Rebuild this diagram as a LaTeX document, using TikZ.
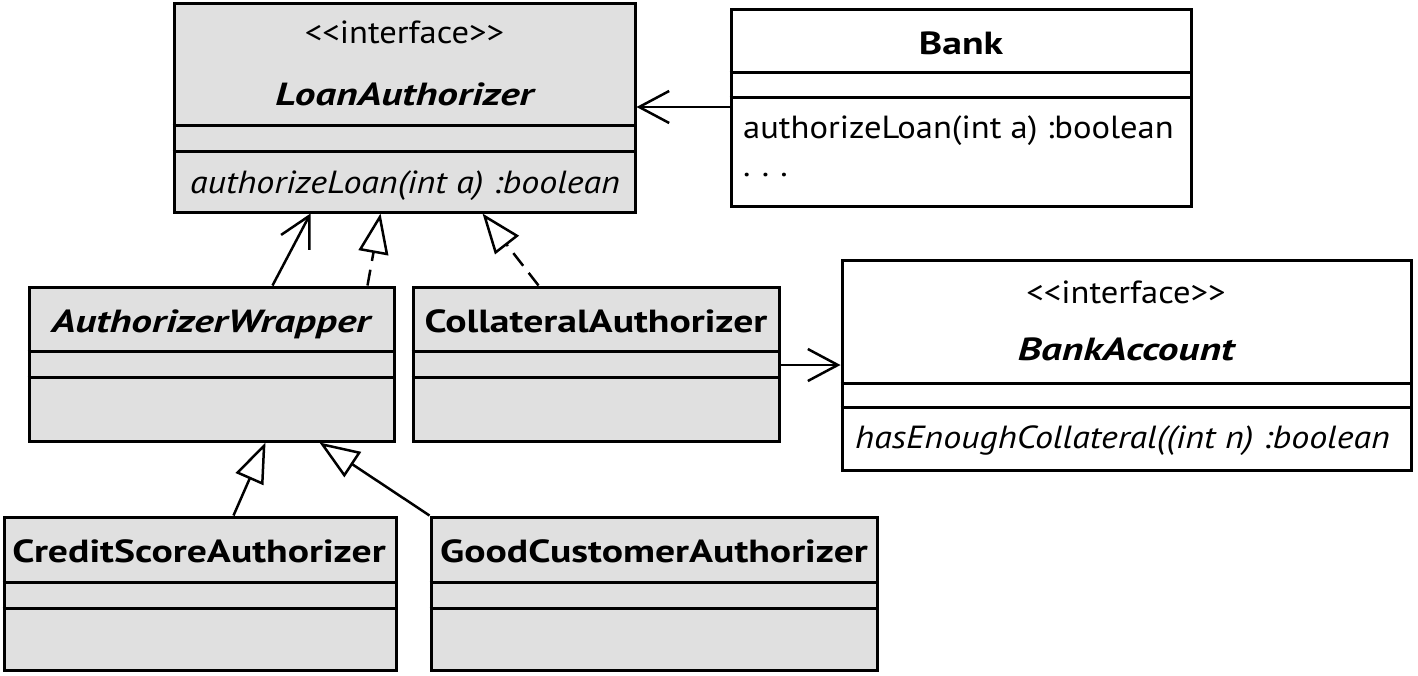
\documentclass[tikz,border=0pt]{standalone}
\usepackage{fontspec}
\setmainfont{PT Sans}
\newfontfamily\fReg{PT Sans}[FakeStretch=1.08]
\newfontfamily\fIt{PT Sans}[FakeStretch=1.125]
\newfontfamily\fBf{PT Sans}[FakeStretch=1.24]
\newfontfamily\fBfIt{PT Sans}[FakeStretch=1.29]
\usetikzlibrary{arrows.meta,fit}
\definecolor{boxgray}{HTML}{E0E0E0}
\tikzset{
  x=1pt, y=-1pt,
  classbox/.style={draw, line width=3pt, inner sep=0pt},
  sepline/.style={line width=3pt},
  lbl/.style={inner sep=0pt, font=\fontsize{32}{38}\fReg},
  lblb/.style={inner sep=0pt, font=\fontsize{32}{38}\fBf\bfseries},
  lblbi/.style={inner sep=0pt, font=\fontsize{32}{38}\fBfIt\bfseries\itshape},
  lbli/.style={inner sep=0pt, font=\fontsize{32}{38}\fIt\itshape},
  conn/.style={line width=2.5pt},
  assoc/.style={conn, -{Straight Barb[length=30pt,width=32pt]}},
  gen/.style={conn, -{Triangle[length=40pt,width=30pt,fill=white]}},
  realize/.style={gen, dash pattern=on 16pt off 9pt},
}
\newcommand\umlclass[8]{%
  \node[classbox, fill=#8, fit={(#2,#3)(#4,#5)}] (#1) {};
  \draw[sepline] (#1.west |- 0,#6) -- (#1.east |- 0,#6);
  \draw[sepline] (#1.west |- 0,#7) -- (#1.east |- 0,#7);
}
\begin{document}
\begin{tikzpicture}
\useasboundingbox[fill=white] (0,0) rectangle (1418,675);
% classes
\umlclass{LA}{174}{3}{635}{212}{125}{151}{boxgray}
\umlclass{Bank}{731}{9}{1191}{206}{72}{97}{white}
\umlclass{AW}{29}{287}{394}{441}{351}{377}{boxgray}
\umlclass{CA}{413}{287}{779}{441}{351}{377}{boxgray}
\umlclass{BA}{842}{260}{1411}{470}{383}{407}{white}
\umlclass{CS}{4}{517}{396}{670}{582}{608}{boxgray}
\umlclass{GC}{431}{517}{877}{670}{582}{608}{boxgray}
% texts
\node[lbl, anchor=base] (LAst) at (404.5,43) {{<}{<}interface{>}{>}};
\node[lblbi, anchor=base] (LAname) at (404.5,105) {LoanAuthorizer};
\node[lbli, anchor=base west] (LAop) at (190,193) {authorizeLoan(int a) :boolean};
\node[lblb, anchor=base] (Bankname) at (961,54) {Bank};
\node[lbl, anchor=base west] (Bankop) at (743,138) {authorizeLoan(int a) :boolean};
\node[lbl, anchor=base west] (Bankdots) at (743,176) {.\hspace{0.35em}.\hspace{0.35em}.};
\node[lblbi, anchor=base] (AWname) at (211,332) {AuthorizerWrapper};
\node[lblb, anchor=base] (CAname) at (596,332) {CollateralAuthorizer};
\node[lbl, anchor=base] (BAst) at (1126,303) {{<}{<}interface{>}{>}};
\node[lblbi, anchor=base] (BAname) at (1126,360) {BankAccount};
\node[lbli, anchor=base west] (BAop) at (855,448) {hasEnoughCollateral((int n) :boolean};
\node[lblb, anchor=base] (CSname) at (199,562) {CreditScoreAuthorizer};
\node[lblb, anchor=base] (GCname) at (654,562) {GoodCustomerAuthorizer};
% connectors
\draw[assoc] (Bank.west |- 0,107) -- (LA.east |- 0,107);
\draw[assoc] ([xshift=245pt]AW.north west) -- ([xshift=138pt]LA.south west);
\draw[realize] ([xshift=340pt]AW.north west) -- ([xshift=208pt]LA.south west);
\draw[realize] ([xshift=127pt]CA.north west) -- ([xshift=310pt]LA.south west);
\draw[assoc] (CA.east |- 0,365) -- (BA.west |- 0,365);
\draw[gen] ([xshift=231pt]CS.north west) -- ([xshift=238pt]AW.south west);
\draw[gen] (GC.north west) -- ([xshift=292pt]AW.south west);
\end{tikzpicture}
\end{document}
